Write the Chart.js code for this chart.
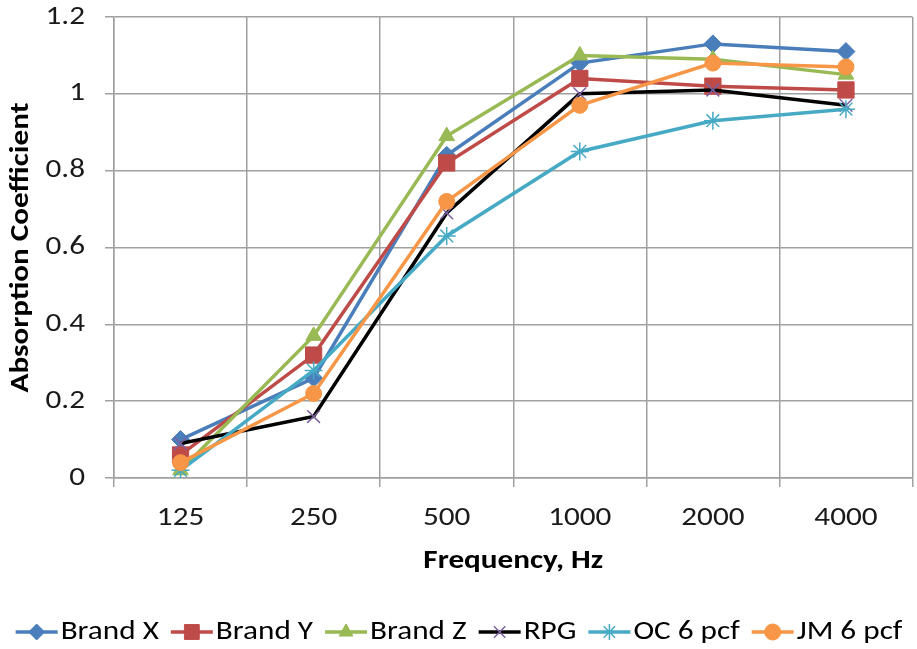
<!DOCTYPE html>
<html>
<head>
<meta charset="utf-8">
<script src="https://cdn.jsdelivr.net/npm/chart.js@4.4.1/dist/chart.umd.min.js"></script>
<style>
  html, body { margin: 0; padding: 0; background: #fff; overflow: hidden; }
  #wrap { width: 925px; height: 649px; position: relative; }
</style>
</head>
<body>
<div id="wrap"><canvas id="c" width="925" height="649"></canvas></div>
<script>
const categories = ['125', '250', '500', '1000', '2000', '4000'];
const brandX = [0.10, 0.26, 0.84, 1.08, 1.13, 1.11];
const brandY = [0.06, 0.32, 0.82, 1.04, 1.02, 1.01];
const brandZ = [0.02, 0.37, 0.89, 1.10, 1.09, 1.05];
const rpg    = [0.09, 0.16, 0.69, 1.00, 1.01, 0.97];
const oc6    = [0.02, 0.28, 0.63, 0.85, 0.93, 0.96];
const jm6    = [0.04, 0.22, 0.72, 0.97, 1.08, 1.07];
const yTicks = [0, 0.2, 0.4, 0.6, 0.8, 1, 1.2];

const FONT = "Carlito, Lato, 'Liberation Sans', Arial, sans-serif";

// Text in the reference is drawn a little wider than the font's natural width.
const SX = 1.2;
(function () {
  const proto = CanvasRenderingContext2D.prototype;
  const origFill = proto.fillText, origMeasure = proto.measureText;
  proto.fillText = function (text, x, y, maxWidth) {
    this.save();
    this.translate(x, y);
    this.scale(SX, 1);
    if (maxWidth !== undefined) origFill.call(this, text, 0, 0, maxWidth / SX);
    else origFill.call(this, text, 0, 0);
    this.restore();
  };
  proto.measureText = function (text) {
    const m = origMeasure.call(this, text);
    return {
      width: m.width * SX,
      actualBoundingBoxAscent: m.actualBoundingBoxAscent,
      actualBoundingBoxDescent: m.actualBoundingBoxDescent,
      actualBoundingBoxLeft: m.actualBoundingBoxLeft * SX,
      actualBoundingBoxRight: m.actualBoundingBoxRight * SX,
      fontBoundingBoxAscent: m.fontBoundingBoxAscent,
      fontBoundingBoxDescent: m.fontBoundingBoxDescent
    };
  };
})();

const seriesDefs = [
  { label: 'Brand X',  data: brandX, line: '#4A7EBB', mark: '#4A7EBB', style: 'rectRot',  r: 9 },
  { label: 'Brand Y',  data: brandY, line: '#BE4B48', mark: '#BE4B48', style: 'rect',     r: 11.5 },
  { label: 'Brand Z',  data: brandZ, line: '#98B954', mark: '#98B954', style: 'triangle', r: 9 },
  { label: 'RPG',      data: rpg,    line: '#000000', mark: '#7D60A0', style: 'crossRot', r: 9 },
  { label: 'OC 6 pcf', data: oc6,    line: '#46AAC5', mark: '#46AAC5', style: 'star',     r: 9 },
  { label: 'JM 6 pcf', data: jm6,    line: '#F79646', mark: '#F79646', style: 'circle',   r: 8 }
];

const datasets = seriesDefs.map((s, i) => ({
  label: s.label,
  data: s.data,
  borderColor: s.line,
  backgroundColor: s.mark,
  borderWidth: 3.5,
  pointStyle: s.style,
  pointRadius: s.r,
  pointHoverRadius: s.r,
  pointBackgroundColor: s.mark,
  pointBorderColor: s.mark,
  pointBorderWidth: (s.style === 'crossRot' || s.style === 'star') ? 1.5 : 1,
  tension: 0,
  order: seriesDefs.length - i
}));

const legendPlugin = {
  id: 'customLegend',
  afterDraw(chart) {
    const ctx = chart.ctx;
    ctx.save();
    ctx.font = '26px ' + FONT;
    ctx.textBaseline = 'middle';
    ctx.textAlign = 'left';
    const lineLen = 42, gapText = 3, gapItem = 12;
    let total = 0;
    const widths = seriesDefs.map(s => ctx.measureText(s.label).width);
    widths.forEach(w => { total += lineLen + gapText + w; });
    total += gapItem * (seriesDefs.length - 1);
    let x = 459 - total / 2;
    const y = 632;
    seriesDefs.forEach((s, i) => {
      ctx.strokeStyle = s.line;
      ctx.lineWidth = 3.5;
      ctx.beginPath();
      ctx.moveTo(x, y);
      ctx.lineTo(x + lineLen, y);
      ctx.stroke();
      ctx.fillStyle = s.mark;
      ctx.strokeStyle = s.mark;
      const bw = (s.style === 'crossRot' || s.style === 'star') ? 1.5 : 1;
      ctx.lineWidth = bw;
      Chart.helpers.drawPoint(ctx, { pointStyle: s.style, radius: s.style === 'rect' ? 10.5 : 8, borderWidth: bw }, x + lineLen / 2, y);
      ctx.fillStyle = '#000';
      ctx.fillText(s.label, x + lineLen + gapText, y);
      x += lineLen + gapText + widths[i] + gapItem;
    });
    ctx.restore();
  }
};

new Chart(document.getElementById('c'), {
  type: 'line',
  data: { labels: categories, datasets },
  plugins: [legendPlugin],
  options: {
    responsive: false,
    animation: false,
    events: [],
    layout: { padding: { left: 0, right: 4, top: 0, bottom: 0 } },
    plugins: { legend: { display: false }, tooltip: { enabled: false } },
    scales: {
      x: {
        type: 'category',
        offset: true,
        grid: { offset: true, color: '#A0A0A0', lineWidth: 1.5, tickLength: 9, tickColor: '#A0A0A0' },
        border: { color: '#A0A0A0', width: 1.5 },
        ticks: { color: '#1a1a1a', font: { family: FONT, size: 26 }, padding: 16, maxRotation: 0, autoSkip: false },
        title: { display: true, text: 'Frequency, Hz', color: '#000', font: { family: FONT, size: 26, weight: 'bold' }, padding: { top: 0, bottom: 72 } },
        afterFit(scale) { scale.height = 171; }
      },
      y: {
        min: 0, max: 1.2,
        afterBuildTicks(scale) { scale.ticks = yTicks.map(v => ({ value: v })); },
        grid: { color: '#A0A0A0', lineWidth: 1.5, tickLength: 9, tickColor: '#A0A0A0' },
        border: { color: '#A0A0A0', width: 1.5 },
        ticks: {
          color: '#1a1a1a', font: { family: FONT, size: 26 }, padding: 20,
          callback: v => String(Number(v.toFixed(1)))
        },
        title: { display: true, text: 'Absorption Coefficient', color: '#000', font: { family: FONT, size: 26, weight: 'bold' }, padding: { top: 6, bottom: 0 } },
        afterFit(scale) { scale.width = 114; scale.paddingTop = 17; scale.paddingBottom = 0; }
      }
    }
  }
});
</script>
</body>
</html>
